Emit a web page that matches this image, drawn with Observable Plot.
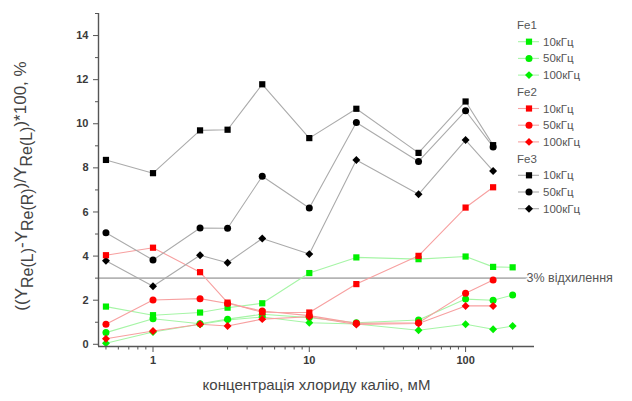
<!DOCTYPE html>
<html>
<head>
<meta charset="utf-8">
<script src="https://cdn.jsdelivr.net/npm/d3@7"></script>
<script src="https://cdn.jsdelivr.net/npm/@observablehq/plot@0.6"></script>
<style>
  html, body { margin: 0; padding: 0; background: #fff; }
  #chart { position: relative; width: 632px; height: 401px; }
  svg { font-family: "Liberation Sans", Arial, sans-serif; }
</style>
</head>
<body>
<div id="chart"></div>
<script>
// ---- data ----
const conc = [0.5, 1, 2, 3, 5, 10, 20, 50, 100, 150, 200];          // KCl concentration, mM
const fe1_10k  = [1.71, 1.32, 1.44, 1.66, 1.86, 3.23, 3.94, 3.86, 3.98, 3.51, 3.49];
const fe1_50k  = [0.53, 1.16, 0.93, 1.14, 1.36, 1.21, 0.98, 1.10, 2.05, 2.00, 2.23];
const fe1_100k = [0.05, 0.56, 0.91, 1.10, 1.24, 0.98, 0.92, 0.64, 0.91, 0.68, 0.83];
const fe2_10k  = [4.04, 4.38, 3.27, 1.89, 1.45, 1.44, 2.73, 4.01, 6.20, 7.12];
const fe2_50k  = [0.91, 2.01, 2.07, 1.85, 1.51, 1.30, 0.95, 0.98, 2.32, 2.92];
const fe2_100k = [0.25, 0.60, 0.91, 0.83, 1.14, 1.25, 0.90, 0.94, 1.74, 1.74];
const fe3_10k  = [8.36, 7.76, 9.70, 9.73, 11.79, 9.35, 10.68, 8.68, 11.01, 9.03];
const fe3_50k  = [5.06, 3.82, 5.27, 5.26, 7.62, 6.18, 10.06, 8.29, 10.59, 8.95];
const fe3_100k = [3.79, 2.63, 4.04, 3.70, 4.80, 4.09, 8.36, 6.80, 9.26, 7.86];
const groups = ["Fe1", "Fe2", "Fe3"];
const freqs = ["10кГц", "50кГц", "100кГц"];
const yMajorTicks = [0, 2, 4, 6, 8, 10, 12, 14];
const yMinorTicks = [1, 3, 5, 7, 9, 11, 13, 15];
const xMajorTicks = [1, 10, 100];
const xMinorTicks = [0.5, 0.6, 0.7, 0.8, 0.9, 2, 3, 4, 5, 6, 7, 8, 9, 20, 30, 40, 50, 60, 70, 80, 90, 200];
const threshold = 3;
const thresholdLabel = "3% відхилення";
const xLabel = "концентрація хлориду калію, мМ";
const xDomain = [0.448, 276];
const yDomain = [-0.1, 15];

// ---- styling ----
const markColor = {Fe1: "#00f000", Fe2: "#ff0000", Fe3: "#000000"};
const lineColor = {Fe1: "#a6f5a6", Fe2: "#f7a0a0", Fe3: "#ababab"};
const diamond = {
  draw(context, size) {
    const h = Math.sqrt(size) * 0.64;
    context.moveTo(0, -h); context.lineTo(h, 0); context.lineTo(0, h); context.lineTo(-h, 0); context.closePath();
  }
};
const symbolFor = {"10кГц": "square", "50кГц": "circle", "100кГц": diamond};
const R = 3.5;

const series = [
  {group: "Fe1", freq: "10кГц", values: fe1_10k},
  {group: "Fe1", freq: "50кГц", values: fe1_50k},
  {group: "Fe1", freq: "100кГц", values: fe1_100k},
  {group: "Fe2", freq: "10кГц", values: fe2_10k},
  {group: "Fe2", freq: "50кГц", values: fe2_50k},
  {group: "Fe2", freq: "100кГц", values: fe2_100k},
  {group: "Fe3", freq: "10кГц", values: fe3_10k},
  {group: "Fe3", freq: "50кГц", values: fe3_50k},
  {group: "Fe3", freq: "100кГц", values: fe3_100k}
].map(s => ({...s, rows: s.values.map((v, i) => ({x: conc[i], y: v}))}));

const lineMarks = series.map(s => Plot.line(s.rows, {x: "x", y: "y", stroke: lineColor[s.group], strokeWidth: 1.1}));
const drawOrder = ["Fe1", "Fe3", "Fe2"];
const dotMarks = drawOrder.flatMap(g => series.filter(s => s.group === g).map(s =>
  Plot.dot(s.rows, {x: "x", y: "y", symbol: symbolFor[s.freq], r: R, fill: markColor[s.group], stroke: "none"})));

const axisStyle = {fontSize: "11px", fontWeight: "bold", fill: "#3a3a3a"};

const plot = Plot.plot({
  width: 632,
  height: 401,
  marginLeft: 98,
  marginRight: 98,
  marginTop: 13,
  marginBottom: 55,
  style: {fontFamily: "'Liberation Sans', Arial, sans-serif", background: "white", overflow: "visible"},
  x: {type: "log", domain: xDomain},
  y: {domain: yDomain},
  marks: [
    Plot.ruleY([threshold], {stroke: "#b4b4b4", strokeWidth: 1.6}),
    ...lineMarks,
    ...dotMarks,
    Plot.text([thresholdLabel], {frameAnchor: "right", y: () => threshold, text: d => d, dx: -8, textAnchor: "start",
      fontSize: 12.5, fill: "#555", stroke: "white", strokeWidth: 3}),
    Plot.ruleX([xDomain[0]], {stroke: "#555", strokeWidth: 1.4}),
    Plot.ruleY([yDomain[0]], {stroke: "#555", strokeWidth: 1.4}),
    Plot.axisY({ticks: yMajorTicks, tickSize: 5, tickPadding: 5, label: null, stroke: "#555", ...axisStyle}),
    Plot.axisY({ticks: yMinorTicks, tickSize: 3, tickFormat: () => "", label: null, stroke: "#555"}),
    Plot.axisX({ticks: xMajorTicks, tickSize: 6, tickPadding: 4, tickFormat: d => String(d), label: null, stroke: "#555", ...axisStyle}),
    Plot.axisX({ticks: xMinorTicks, tickSize: 3.5, tickFormat: () => "", label: null, stroke: "#555"}),
    Plot.text([xLabel], {frameAnchor: "bottom", text: d => d, dy: 43, fontSize: 15, fill: "#444"})
  ]
});

document.getElementById("chart").appendChild(plot);

// ---- y-axis title with subscripts ----
const svg = d3.select(plot);
const yt = svg.append("text")
  .attr("transform", "translate(27,186) rotate(-90)")
  .attr("text-anchor", "middle")
  .attr("fill", "#444")
  .attr("font-size", 17);
const parts = [
  ["((Y", 0], ["Re(L)", 1], ["-Y", 0], ["Re(R)", 1], [")/Y", 0], ["Re(L)", 1], [")*100, %", 0]
];
let prevSub = 0;
parts.forEach(([t, sub]) => {
  const shift = sub - prevSub;
  yt.append("tspan").attr("dy", shift === 0 ? null : (shift > 0 ? "0.38em" : "-0.38em"))
    .attr("font-size", sub ? 16 : 17).text(t);
  prevSub = sub;
});

// ---- legend ----
const legendX = 517, legendY0 = 25, rowH = 16.7;
const lg = svg.append("g").attr("font-size", 11.5).attr("fill", "#555").attr("text-anchor", "start");
let row = 0;
groups.forEach(g => {
  lg.append("text").attr("x", legendX).attr("y", legendY0 + row * rowH).attr("dy", "0.35em").text(g);
  row++;
  freqs.forEach(f => {
    const cy = legendY0 + row * rowH;
    lg.append("line").attr("x1", legendX + 1).attr("x2", legendX + 22).attr("y1", cy).attr("y2", cy)
      .attr("stroke", lineColor[g]).attr("stroke-width", 1.1);
    const sym = symbolFor[f];
    const type = sym === "square" ? d3.symbolSquare : sym === "circle" ? d3.symbolCircle : diamond;
    lg.append("path").attr("transform", `translate(${legendX + 12},${cy})`)
      .attr("d", d3.symbol(type, Math.PI * R * R)()).attr("fill", markColor[g]);
    lg.append("text").attr("x", legendX + 26).attr("y", cy).attr("dy", "0.35em").text(f);
    row++;
  });
});
</script>
</body>
</html>
